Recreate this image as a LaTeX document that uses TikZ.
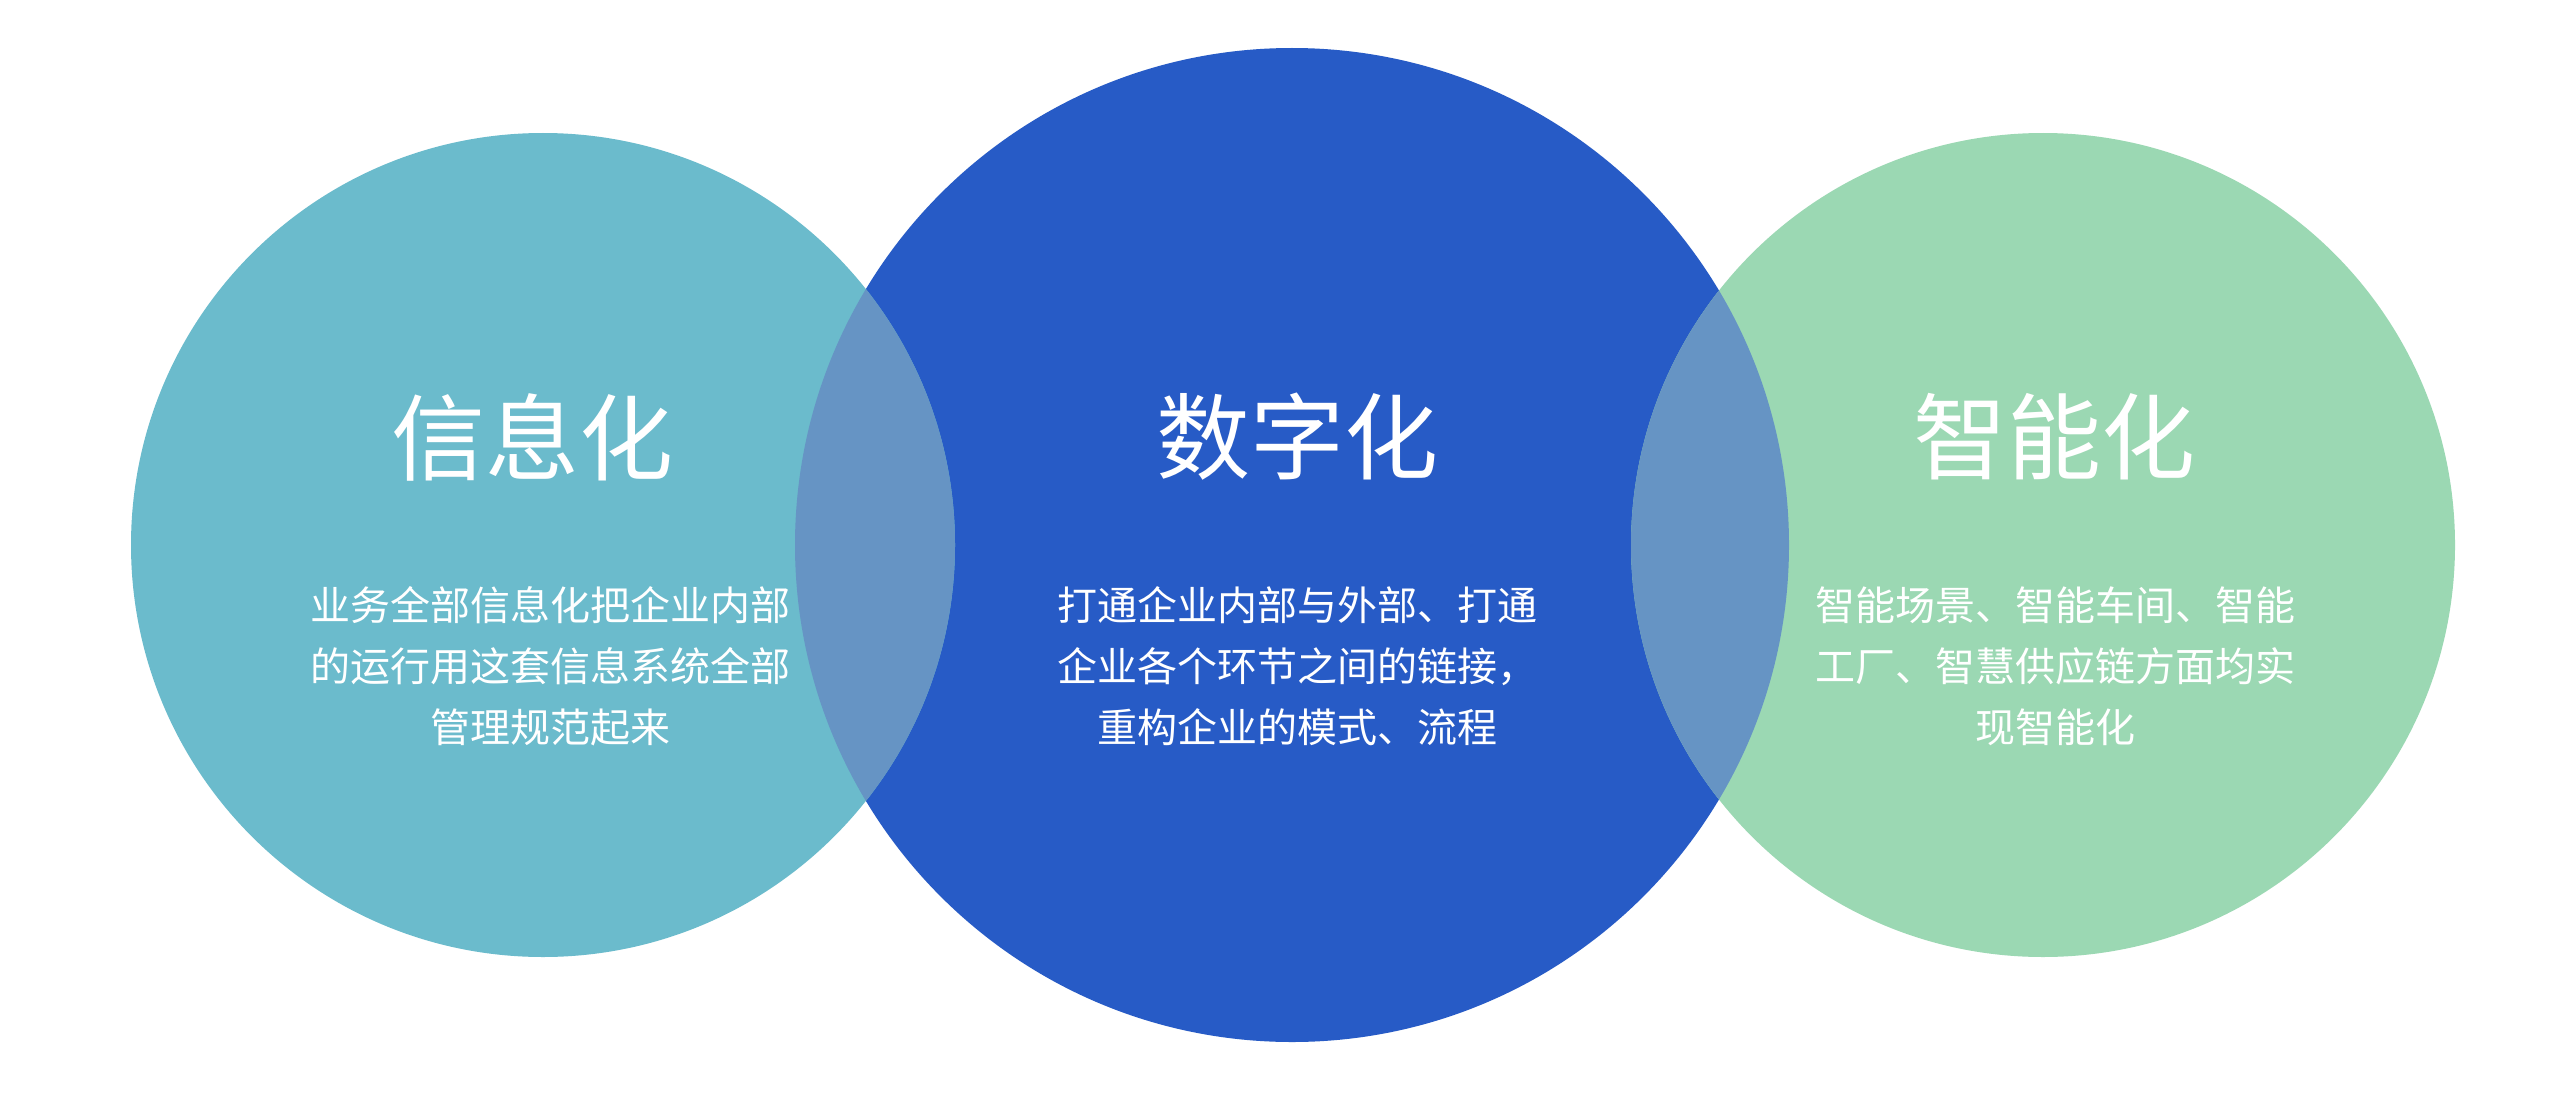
\documentclass[tikz,border=0pt]{standalone}
\usepackage{fontspec}
\newfontfamily\cjk{Noto Sans CJK SC}
\definecolor{cleft}{RGB}{107,187,204}
\definecolor{cmid}{RGB}{39,91,198}
\definecolor{cright}{RGB}{155,216,179}
\definecolor{clens}{RGB}{102,148,196}
\tikzset{
  titletext/.style={text=white,font=\cjk\fontsize{47pt}{47pt}\selectfont,inner sep=0pt},
  bodytext/.style={text=white,font=\cjk\fontsize{20pt}{30.5pt}\selectfont,align=center,inner sep=0pt},
}
\begin{document}
\begin{tikzpicture}
\useasboundingbox (0,0) rectangle (1287pt,-548.5pt);
\fill[white] (0,0) rectangle (1287pt,-548.5pt);
\def\Lc{(271.5pt,-272.5pt)}
\def\Mc{(646pt,-272.5pt)}
\def\Rc{(1021.5pt,-272.5pt)}
\fill[cmid] \Mc circle[radius=248.5pt];
\fill[cleft] \Lc circle[radius=206pt];
\fill[cright] \Rc circle[radius=206pt];
\begin{scope}
  \clip \Lc circle[radius=206pt];
  \fill[clens] \Mc circle[radius=248.5pt];
\end{scope}
\begin{scope}
  \clip \Rc circle[radius=206pt];
  \fill[clens] \Mc circle[radius=248.5pt];
\end{scope}
\node[titletext] (t1) at (266pt,-218.5pt) {信息化};
\node[titletext] (t2) at (648.5pt,-218.5pt) {数字化};
\node[titletext] (t3) at (1027pt,-218.5pt) {智能化};
\node[bodytext] (b1) at (275pt,-333pt) {业务全部信息化把企业内部\\的运行用这套信息系统全部\\管理规范起来};
\node[bodytext] (b2) at (648.5pt,-333pt) {打通企业内部与外部、打通\\企业各个环节之间的链接，\\重构企业的模式、流程};
\node[bodytext] (b3) at (1027.5pt,-333pt) {智能场景、智能车间、智能\\工厂、智慧供应链方面均实\\现智能化};
\end{tikzpicture}
\end{document}
